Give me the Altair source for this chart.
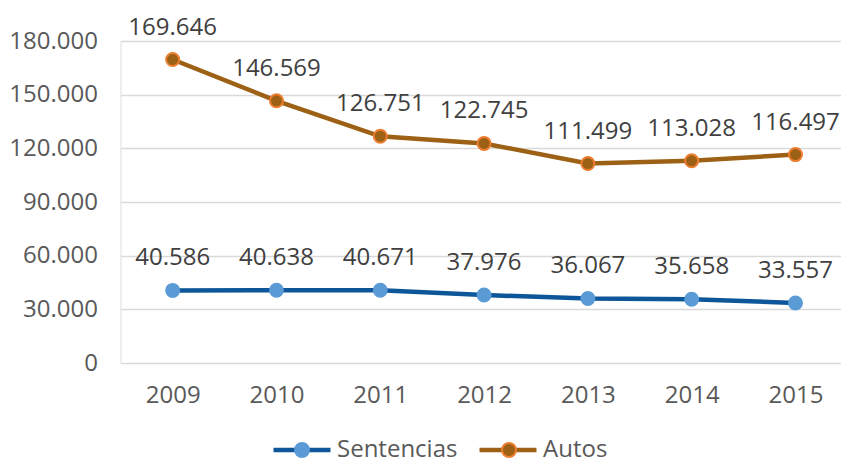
import altair as alt
import pandas as pd

years = ["2009", "2010", "2011", "2012", "2013", "2014", "2015"]
series_names = ["Sentencias", "Autos"]
sentencias = [40586, 40638, 40671, 37976, 36067, 35658, 33557]
autos = [169646, 146569, 126751, 122745, 111499, 113028, 116497]
y_ticks = [0, 30000, 60000, 90000, 120000, 150000, 180000]

rows = []
for name, vals in zip(series_names, [sentencias, autos]):
    for y, v in zip(years, vals):
        rows.append({"year": y, "series": name, "serie2": name, "value": v,
                     "label": f"{v:,}".replace(",", ".")})
df = pd.DataFrame(rows)

FONT = "Open Sans"
AX_COL = "#595959"
LBL_COL = "#404040"
FS = 24

line_colors = ["#0D5699", "#9C6114"]
pt_fill = ["#5B9BD5", "#9C6114"]
pt_stroke = ["#5B9BD5", "#ED7D31"]

LX, LY = 150.5, 378
SYM_LINE = 3249   # 57px line
SYM_PT = 3600     # same legend offset once stroke width differs
CIRCLE = "M-0.233,0A0.233,0.233 0 1,0 0.233,0A0.233,0.233 0 1,0 -0.233,0Z"

x_enc = alt.X("year:O", title=None,
              scale=alt.Scale(type="point", padding=0.4706, align=0.534),
              axis=alt.Axis(labelAngle=0, labelFont=FONT, labelFontSize=FS,
                            labelColor=AX_COL, ticks=False, tickSize=0,
                            domain=False, labelPadding=20, grid=False))
y_enc = alt.Y("value:Q", title=None,
              scale=alt.Scale(domain=[0, 180000], nice=False),
              axis=alt.Axis(values=y_ticks, labelFont=FONT, labelFontSize=FS,
                            labelColor=AX_COL, ticks=False, tickSize=0,
                            domain=False, labelPadding=23,
                            gridColor="#D9D9D9", gridWidth=1.4,
                            labelExpr="replace(format(datum.value, ','), ',', '.')"))

lines = alt.Chart(df).mark_line(strokeWidth=4.5).encode(
    x=x_enc, y=y_enc,
    color=alt.Color("series:N", sort=series_names,
                    scale=alt.Scale(range=line_colors),
                    legend=alt.Legend(orient="none", legendX=LX, legendY=LY,
                                      direction="horizontal", title=None,
                                      symbolType="M-1,0H1", symbolSize=SYM_LINE,
                                      symbolStrokeWidth=4.5,
                                      labelFont=FONT, labelFontSize=FS,
                                      labelColor=AX_COL, labelOffset=4,
                                      columnPadding=12)),
)

points = alt.Chart(df).mark_point(filled=True, shape="circle", size=169,
                                  strokeWidth=2, opacity=1).encode(
    x=x_enc, y=y_enc,
    fill=alt.Fill("serie2:N", sort=series_names,
                  scale=alt.Scale(range=pt_fill),
                  legend=alt.Legend(orient="none", legendX=LX, legendY=LY,
                                    direction="horizontal", title=None,
                                    symbolType=CIRCLE,
                                    symbolSize=SYM_PT, symbolStrokeWidth=2,
                                    symbolOpacity=1,
                                    symbolStrokeColor={"expr": "datum.value === 'Autos' ? '#ED7D31' : '#5B9BD5'"},
                                    labelFont=FONT, labelFontSize=FS,
                                    labelColor=AX_COL, labelOffset=4,
                                    labelOpacity=0,
                                    columnPadding=20)),
    stroke=alt.Stroke("serie2:N", sort=series_names,
                      scale=alt.Scale(range=pt_stroke), legend=None),
)

texts = alt.Chart(df).mark_text(dy=-32, font=FONT, fontSize=FS,
                                color=LBL_COL, baseline="middle").encode(
    x=x_enc, y=y_enc, text="label:N"
)

chart = alt.layer(lines, points, texts).properties(
    width=720.5, height=322,
    autosize=alt.AutoSizeParams(type="none"),
    padding={"left": 112.5, "top": 33, "right": 0, "bottom": 96},
).configure_view(stroke=None).configure(background="white")

chart.save("out.html", embed_options={"renderer": "svg", "actions": False})
